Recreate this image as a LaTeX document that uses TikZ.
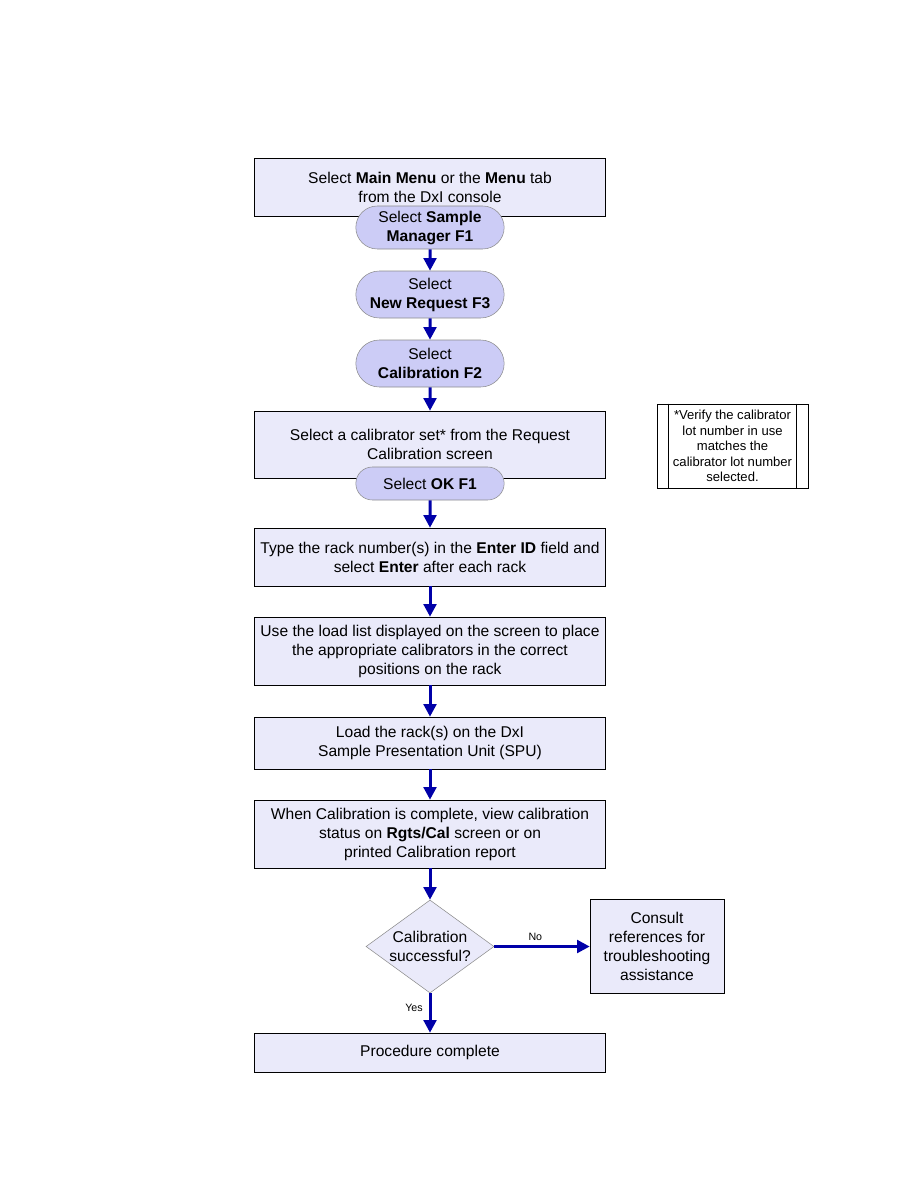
\documentclass[tikz,border=0pt]{standalone}
\usepackage{fontspec}
\setmainfont{Liberation Sans}
\usetikzlibrary{arrows.meta, positioning, shapes.geometric, shapes.misc, calc}
\definecolor{boxfill}{RGB}{234,234,250}
\definecolor{pillfill}{RGB}{204,204,246}
\definecolor{flowblue}{RGB}{0,0,168}

\begin{document}
\begin{tikzpicture}[
  x=0.75pt, y=-0.75pt,
  box/.style={rectangle, draw=black, fill=boxfill,
              minimum width=263.25pt, inner sep=1pt,
              align=center, font=\fontsize{11.7}{14.25}\selectfont},
  pill/.style={rounded rectangle, draw=black!45, fill=pillfill,
               minimum width=113.25pt, inner sep=1pt,
               align=center, font=\fontsize{11.7}{14.25}\selectfont},
  decision/.style={diamond, draw=black!45, fill=boxfill,
                   minimum width=96pt, minimum height=69.75pt, inner sep=0pt},
  note/.style={rectangle, draw=black, fill=white,
               minimum width=113.25pt, minimum height=63pt,
               align=center, font=\fontsize{9.8}{11.6}\selectfont},
  small/.style={font=\fontsize{8}{9}\selectfont},
  arrow/.style={-{Triangle[length=9.5pt,width=9.5pt]}, line width=2.25pt, draw=flowblue}
]
\useasboundingbox (0,0) rectangle (918,1188);

\node[box, minimum height=43.5pt] (mainmenu) at (430,187)
  {Select \textbf{Main Menu} or the \textbf{Menu} tab\\from the DxI console};
\node[pill, minimum height=32.25pt] (sample) at (430,227.5)
  {Select \textbf{Sample}\\\textbf{Manager F1}};
\node[pill, minimum height=35.25pt] (newreq) at (430,294.5)
  {Select\\\textbf{New Request F3}};
\node[pill, minimum height=35.25pt] (calib) at (430,363.5)
  {Select\\\textbf{Calibration F2}};

\node[box, minimum height=50.25pt] (calset) at (430,444.5)
  {Select a calibrator set* from the Request\\Calibration screen};
\node[pill, minimum height=24.75pt] (okf) at (430,483.5)
  {Select \textbf{OK F1}};

\node[note] (verify) at (732.5,446)
  {*Verify the calibrator\\lot number in use\\matches the\\calibrator lot number\\selected.};
\draw ($(verify.north west)+(9pt,0)$) -- ($(verify.south west)+(9pt,0)$);
\draw ($(verify.north east)+(-9pt,0)$) -- ($(verify.south east)+(-9pt,0)$);

\node[box, minimum height=43.5pt] (rackid) at (430,557)
  {Type the rack number(s) in the \textbf{Enter ID} field and\\select \textbf{Enter} after each rack};
\node[box, minimum height=51pt] (loadlist) at (430,651)
  {Use the load list displayed on the screen to place\\the appropriate calibrators in the correct\\positions on the rack};
\node[box, minimum height=39pt] (loadrack) at (430,743)
  {Load the rack(s) on the DxI\\Sample Presentation Unit (SPU)};
\node[box, minimum height=51pt] (status) at (430,834)
  {When Calibration is complete, view calibration\\status on \textbf{Rgts/Cal} screen or on\\printed Calibration report};

\node[decision] (success) at (430,946.5) {};
\node[align=center, font=\fontsize{11.7}{14.25}\selectfont] (successtxt) at (success)
  {Calibration\\successful?};
\node[box, minimum width=100.5pt, minimum height=70.5pt] (consult) at (657,946.5)
  {Consult\\references for\\troubleshooting\\assistance};
\node[box, minimum height=29.25pt] (done) at (430,1052.5)
  {Procedure complete};

\draw[arrow] (sample) -- (newreq);
\draw[arrow] (newreq) -- (calib);
\draw[arrow] (calib) -- (calset);
\draw[arrow] (okf) -- (rackid);
\draw[arrow] (rackid) -- (loadlist);
\draw[arrow] (loadlist) -- (loadrack);
\draw[arrow] (loadrack) -- (status);
\draw[arrow] (status) -- (success);
\draw[arrow] (success.east) -- node[small, above=0pt, pos=0.43]{No} (consult.west);
\draw[arrow] (success.south) -- node[small, left=1pt, pos=0.38]{Yes} (done.north);

\end{tikzpicture}
\end{document}
